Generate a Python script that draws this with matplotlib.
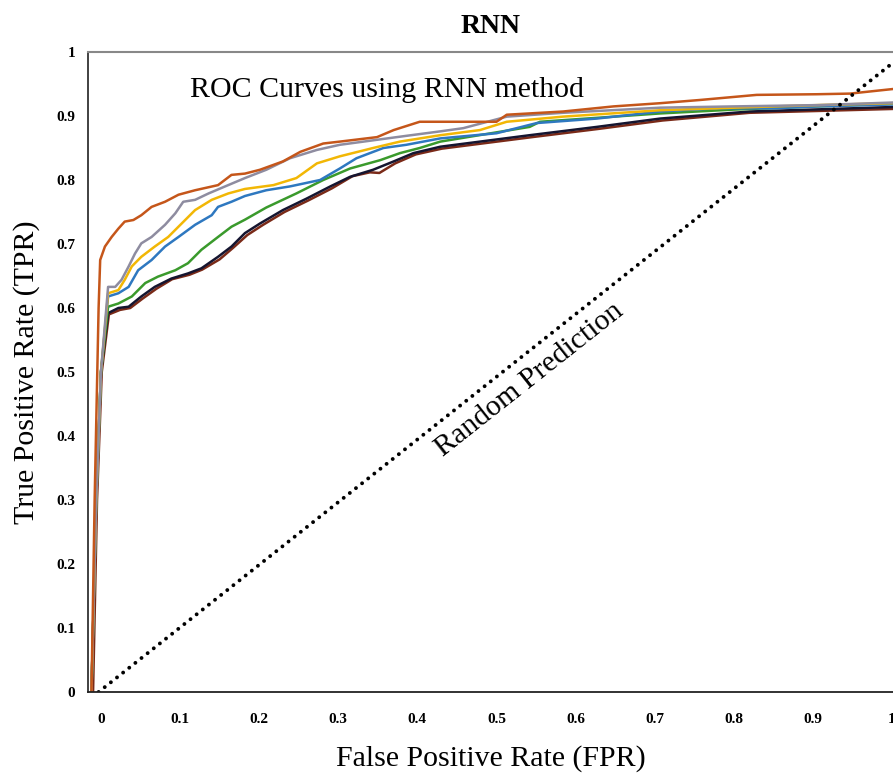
import matplotlib
matplotlib.use("Agg")
import matplotlib.pyplot as plt

plt.rcParams["font.family"] = ["Liberation Serif", "DejaVu Serif"]

# ROC curves (false positive rate, true positive rate)
orange_fpr = [-0.012, -0.008, -0.003, -0.001, 0.005, 0.0135, 0.022, 0.030, 0.041, 0.051, 0.064, 0.081, 0.098, 0.119, 0.148, 0.165, 0.182, 0.201, 0.230, 0.252, 0.281, 0.302, 0.349, 0.370, 0.403, 0.429, 0.50, 0.513, 0.584, 0.648, 0.707, 0.757, 0.829, 0.905, 0.947, 1.0]
orange_tpr = [0.0, 0.30, 0.60, 0.675, 0.696, 0.711, 0.724, 0.735, 0.7375, 0.745, 0.758, 0.766, 0.777, 0.784, 0.792, 0.808, 0.81, 0.816, 0.829, 0.844, 0.857, 0.86, 0.867, 0.878, 0.891, 0.891, 0.891, 0.902, 0.907, 0.915, 0.92, 0.925, 0.933, 0.934, 0.935, 0.942]

gray_fpr = [-0.012, -0.006, 0.0, 0.009, 0.018, 0.026, 0.035, 0.043, 0.051, 0.064, 0.081, 0.094, 0.104, 0.119, 0.136, 0.157, 0.182, 0.209, 0.239, 0.273, 0.302, 0.344, 0.386, 0.429, 0.458, 0.513, 0.584, 0.707, 0.80, 0.905, 1.0]
gray_tpr = [0.0, 0.30, 0.50, 0.633, 0.633, 0.644, 0.665, 0.685, 0.701, 0.711, 0.73, 0.748, 0.766, 0.769, 0.779, 0.79, 0.803, 0.816, 0.834, 0.847, 0.855, 0.862, 0.869, 0.876, 0.881, 0.899, 0.905, 0.913, 0.915, 0.917, 0.921]

yellow_fpr = [-0.012, -0.006, 0.0, 0.009, 0.022, 0.030, 0.039, 0.051, 0.068, 0.085, 0.102, 0.119, 0.140, 0.161, 0.182, 0.218, 0.247, 0.273, 0.302, 0.344, 0.378, 0.429, 0.479, 0.513, 0.584, 0.707, 0.80, 0.905, 1.0]
yellow_tpr = [0.0, 0.30, 0.50, 0.623, 0.628, 0.644, 0.665, 0.68, 0.696, 0.711, 0.732, 0.753, 0.769, 0.779, 0.786, 0.792, 0.803, 0.826, 0.837, 0.85, 0.86, 0.87, 0.878, 0.891, 0.899, 0.909, 0.913, 0.917, 0.92]

blue_fpr = [-0.012, -0.006, 0.0, 0.009, 0.022, 0.035, 0.047, 0.064, 0.081, 0.098, 0.119, 0.140, 0.148, 0.165, 0.182, 0.209, 0.239, 0.277, 0.302, 0.323, 0.357, 0.386, 0.429, 0.50, 0.551, 0.627, 0.707, 0.778, 0.85, 0.905, 1.0]
blue_tpr = [0.0, 0.30, 0.50, 0.618, 0.623, 0.633, 0.659, 0.675, 0.696, 0.711, 0.73, 0.745, 0.758, 0.766, 0.775, 0.784, 0.79, 0.80, 0.818, 0.834, 0.85, 0.855, 0.865, 0.873, 0.889, 0.896, 0.907, 0.912, 0.912, 0.915, 0.918]

green_fpr = [-0.012, -0.006, 0.0, 0.009, 0.022, 0.039, 0.056, 0.072, 0.094, 0.110, 0.127, 0.148, 0.165, 0.182, 0.209, 0.247, 0.281, 0.315, 0.353, 0.378, 0.403, 0.429, 0.542, 0.555, 0.707, 0.80, 0.905, 1.0]
green_tpr = [0.0, 0.30, 0.50, 0.602, 0.607, 0.618, 0.639, 0.649, 0.659, 0.67, 0.691, 0.711, 0.727, 0.738, 0.757, 0.779, 0.80, 0.818, 0.831, 0.842, 0.85, 0.86, 0.883, 0.891, 0.904, 0.91, 0.915, 0.919]

black_fpr = [-0.012, -0.006, 0.0, 0.009, 0.022, 0.035, 0.051, 0.068, 0.089, 0.110, 0.127, 0.148, 0.165, 0.182, 0.201, 0.230, 0.26, 0.29, 0.315, 0.344, 0.370, 0.395, 0.429, 0.542, 0.627, 0.707, 0.82, 1.0]
black_tpr = [0.0, 0.30, 0.50, 0.592, 0.60, 0.602, 0.618, 0.633, 0.646, 0.654, 0.662, 0.68, 0.696, 0.717, 0.732, 0.753, 0.771, 0.79, 0.805, 0.816, 0.829, 0.842, 0.852, 0.87, 0.883, 0.896, 0.907, 0.914]

darkred_fpr = [-0.010, -0.005, 0.001, 0.010, 0.024, 0.037, 0.053, 0.070, 0.090, 0.112, 0.128, 0.150, 0.167, 0.185, 0.205, 0.232, 0.262, 0.292, 0.318, 0.340, 0.352, 0.372, 0.398, 0.431, 0.545, 0.630, 0.71, 0.82, 1.0]
darkred_tpr = [0.0, 0.30, 0.50, 0.59, 0.597, 0.600, 0.615, 0.630, 0.645, 0.652, 0.660, 0.676, 0.694, 0.714, 0.73, 0.75, 0.768, 0.787, 0.806, 0.812, 0.811, 0.826, 0.84, 0.849, 0.867, 0.88, 0.893, 0.905, 0.911]

random_fpr = [-0.003, 1.0]
random_tpr = [0.0, 0.982]

tick_values = [0, 0.1, 0.2, 0.3, 0.4, 0.5, 0.6, 0.7, 0.8, 0.9, 1]
tick_labels = ["0", "0.1", "0.2", "0.3", "0.4", "0.5", "0.6", "0.7", "0.8", "0.9", "1"]

fig = plt.figure(figsize=(8.93, 7.75), dpi=100)
ax = fig.add_axes([88 / 893, 1 - 692 / 775, 805 / 893, 640 / 775])

lw = 1.8
ax.plot(darkred_fpr, darkred_tpr, color="#7A2A18", lw=lw)
ax.plot(black_fpr, black_tpr, color="#151530", lw=lw)
ax.plot(green_fpr, green_tpr, color="#3A9A2C", lw=lw)
ax.plot(blue_fpr, blue_tpr, color="#2E78C0", lw=lw)
ax.plot(yellow_fpr, yellow_tpr, color="#F2B705", lw=lw)
ax.plot(gray_fpr, gray_tpr, color="#8E8CA0", lw=lw)
ax.plot(orange_fpr, orange_tpr, color="#C5561A", lw=lw)

ax.plot(random_fpr, random_tpr, color="black", lw=2.8,
        linestyle=(0, (0.01, 2.0)), dash_capstyle="round")

ax.text(0.1125, 0.94, "ROC Curves using RNN method", fontsize=21.5,
        ha="left", va="center")
ax.text(0.542, 0.488, "Random Prediction", fontsize=21.5, rotation=38.3,
        rotation_mode="anchor", ha="center", va="center")

ax.set_xlim(-0.0164, 1.0013)
ax.set_ylim(0, 1)
ax.set_xticks(tick_values)
ax.set_xticklabels(tick_labels, fontweight="bold", fontsize=11)
ax.set_yticks(tick_values)
ax.set_yticklabels(tick_labels, fontweight="bold", fontsize=11)
ax.tick_params(axis="x", length=0, pad=15)
ax.tick_params(axis="y", length=0, pad=9)

ax.spines["right"].set_visible(False)
ax.spines["top"].set_color("#888888")
ax.spines["top"].set_linewidth(1.5)
ax.spines["left"].set_color("#333333")
ax.spines["left"].set_linewidth(1.3)
ax.spines["bottom"].set_color("#222222")
ax.spines["bottom"].set_linewidth(1.3)

ax.set_title("RNN", fontsize=20, fontweight="bold", pad=14)
ax.set_xlabel("False Positive Rate (FPR)", fontsize=21.5, labelpad=14)
ax.set_ylabel("True Positive Rate (TPR)", fontsize=21.5, labelpad=12)

fig.savefig("out.png", dpi=100)
